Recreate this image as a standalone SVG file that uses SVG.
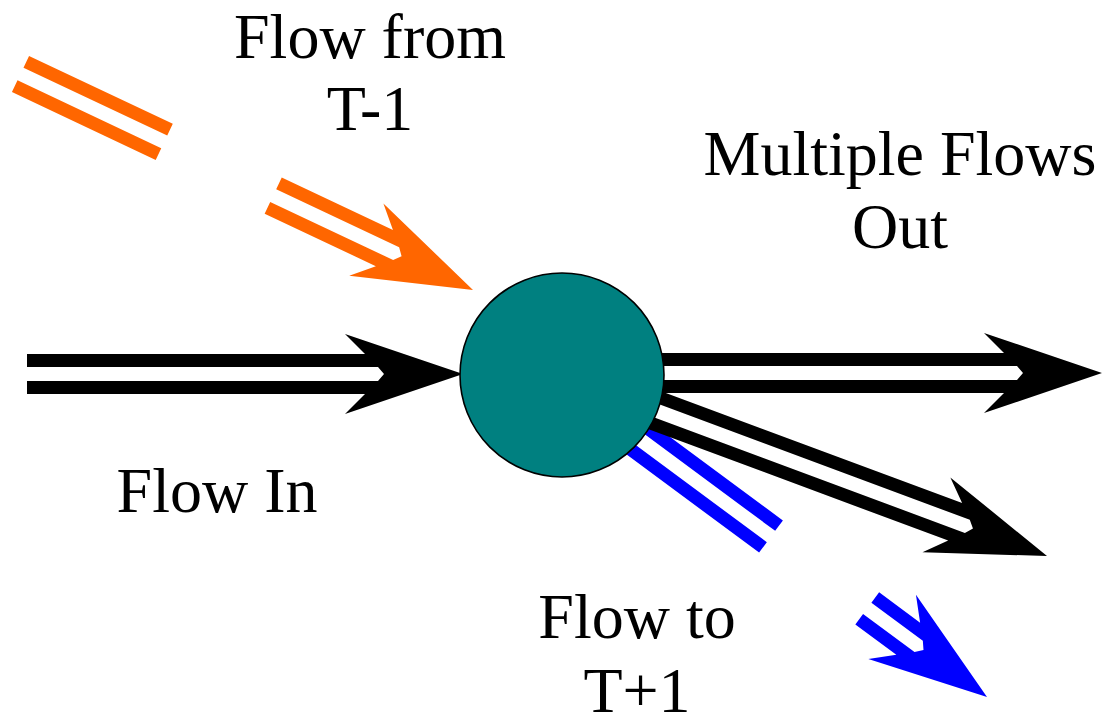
<svg xmlns="http://www.w3.org/2000/svg" width="1111" height="719" viewBox="0 0 1111 719">
  <style>
    .lbl { font-family: "Liberation Serif", "Times New Roman", serif; font-size: 64px; fill: #000000; text-anchor: middle; }
    .orange { fill: #FF6600; }
    .blue { fill: #0000FF; }
    .black { fill: #000000; }
    .node { fill: #008080; stroke: #000000; stroke-width: 1.6; }
  </style>
  <rect width="1111" height="719" fill="#FFFFFF"/>

  <g id="connectors">
    <!-- Flow from T-1: tail segment -->
    <path class="orange" transform="translate(20.5,74) rotate(25.3)" d="M0,-20 H159 V-7 H0 Z M0,7 H159 V20 H0 Z"/>
    <!-- Flow from T-1: head segment -->
    <path class="orange" transform="translate(473,290) rotate(25.3)" d="M-221,-20 L-98,-20 L-118,-40 L0,0 L-118,40 L-98,20 L-221,20 L-221,7 L-85,7 L-79,0 L-85,-7 L-221,-7 Z"/>
    <!-- Flow to T+1: tail segment -->
    <path class="blue" transform="translate(771,536.5) rotate(36.5)" d="M-190,-20 H0 V-7 H-190 Z M-190,7 H0 V20 H-190 Z"/>
    <!-- Flow to T+1: head segment -->
    <path class="blue" transform="translate(987,697) rotate(36.5)" d="M-149,-20 L-98,-20 L-118,-40 L0,0 L-118,40 L-98,20 L-149,20 L-149,7 L-85,7 L-79,0 L-85,-7 L-149,-7 Z"/>
    <!-- Multiple flows out: diagonal -->
    <path class="black" transform="translate(1047,556) rotate(20.4)" d="M-450,-20 L-98,-20 L-118,-40 L0,0 L-118,40 L-98,20 L-450,20 L-450,7 L-85,7 L-79,0 L-85,-7 L-450,-7 Z"/>
    <!-- Multiple flows out: horizontal -->
    <path class="black" transform="translate(1102,373)" d="M-447,-20 L-98,-20 L-118,-40 L0,0 L-118,40 L-98,20 L-447,20 L-447,7 L-85,7 L-79,0 L-85,-7 L-447,-7 Z"/>
    <!-- Flow In -->
    <path class="black" transform="translate(463,374)" d="M-436,-20 L-98,-20 L-118,-40 L0,0 L-118,40 L-98,20 L-436,20 L-436,7 L-85,7 L-79,0 L-85,-7 L-436,-7 Z"/>
  </g>

  <g id="node-center">
    <circle class="node" cx="562" cy="375" r="102"/>
  </g>

  <g id="label-flow-from">
    <text class="lbl" x="370" y="58">Flow from</text>
    <text class="lbl" x="370" y="130">T-1</text>
  </g>
  <g id="label-multiple-flows">
    <text class="lbl" x="900" y="175">Multiple Flows</text>
    <text class="lbl" x="900" y="248">Out</text>
  </g>
  <g id="label-flow-in">
    <text class="lbl" x="217" y="512">Flow In</text>
  </g>
  <g id="label-flow-to">
    <text class="lbl" x="637" y="638">Flow to</text>
    <text class="lbl" x="637" y="712">T+1</text>
  </g>
</svg>
